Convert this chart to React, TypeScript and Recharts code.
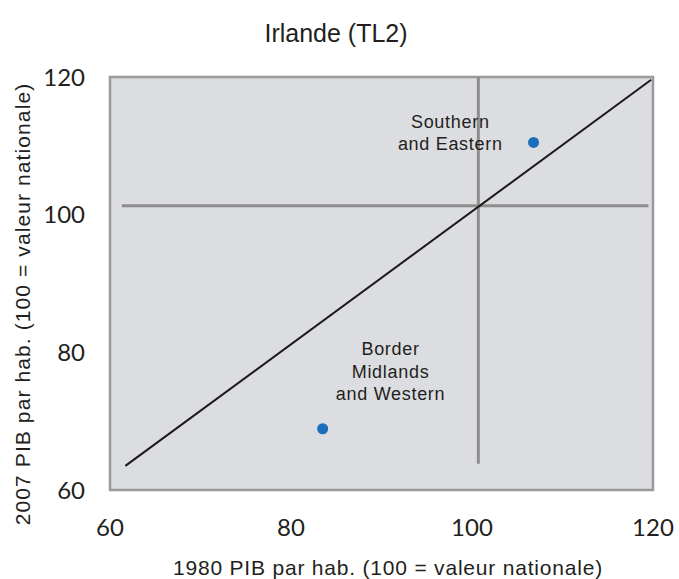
import {
  Customized,
  ReferenceArea,
  ReferenceDot,
  ReferenceLine,
  Scatter,
  ScatterChart,
  XAxis,
  YAxis,
} from "recharts";

// regions (TL2) and their GDP per head index (100 = national value)
const regions = ["Southern and Eastern", "Border Midlands and Western"];
const gdp1980 = [106.8, 83.5];
const gdp2007 = [110.5, 68.9];
const regionLabelLines = [
  ["Southern", "and Eastern"],
  ["Border", "Midlands", "and Western"],
];
const labelX = [97.6, 91.0];
const labelY = [112.6, 79.6];

const axisTicks = [60, 80, 100, 120];

// 45-degree-ish reference line and the two mean lines
const diagonalX = [61.7, 119.8];
const diagonalY = [63.5, 119.6];
const meanX = 100.7;
const meanXFromTo = [63.8, 120];
const meanY = 101.3;
const meanYFromTo = [61.3, 119.5];

const points = regions.map((name, i) => ({ name, x: gdp1980[i], y: gdp2007[i] }));

const textFont = '"Liberation Sans", Arial, sans-serif';
const tickFont = 'Lato, "Open Sans", sans-serif';
const textColor = "#231f20";

function Titles() {
  return (
    <g fontFamily={textFont} fill={textColor}>
      <text x={336} y={42} textAnchor="middle" fontSize={25}>
        Irlande (TL2)
      </text>
      <text x={388} y={575} textAnchor="middle" fontSize={21} letterSpacing={0.8}>
        1980 PIB par hab. (100 = valeur nationale)
      </text>
      <text
        x={30}
        y={304}
        textAnchor="middle"
        fontSize={21}
        letterSpacing={1.1}
        transform="rotate(-90 30 304)"
      >
        2007 PIB par hab. (100 = valeur nationale)
      </text>
    </g>
  );
}

function RegionLabel(lines: string[]) {
  return (props: any) => {
    const vb = props.viewBox || {};
    const cx = vb.x + (vb.width || 0) / 2;
    const cy = vb.y + (vb.height || 0) / 2;
    return (
      <text
        x={cx}
        y={cy}
        textAnchor="middle"
        fontFamily={textFont}
        fontSize={18}
        letterSpacing={0.7}
        fill={textColor}
      >
        {lines.map((l, i) => (
          <tspan key={l} x={cx} dy={i === 0 ? 0 : 22.5}>
            {l}
          </tspan>
        ))}
      </text>
    );
  };
}

export default function App() {
  return (
    <div style={{ position: "absolute", left: 0, top: 0 }}>
      <ScatterChart width={679} height={579} margin={{ top: 77, right: 26, bottom: 0, left: 0 }}>
        <XAxis
          type="number"
          dataKey="x"
          domain={[60, 120]}
          ticks={axisTicks}
          allowDataOverflow
          axisLine={false}
          tickLine={false}
          tickMargin={23}
          height={89}
          tick={{ fill: textColor, fontSize: 24, fontFamily: tickFont }}
        />
        <YAxis
          type="number"
          dataKey="y"
          domain={[60, 120]}
          ticks={axisTicks}
          allowDataOverflow
          axisLine={false}
          tickLine={false}
          tickMargin={19}
          width={110}
          tick={{ fill: textColor, fontSize: 24, fontFamily: tickFont }}
        />
        <ReferenceArea
          x1={60}
          x2={120}
          y1={60}
          y2={120}
          fill="#dcdde0"
          fillOpacity={1}
          stroke="#9a9a9a"
          strokeWidth={2.5}
        />
        <ReferenceLine
          segment={[
            { x: meanX, y: meanXFromTo[0] },
            { x: meanX, y: meanXFromTo[1] },
          ]}
          stroke="#8e8e8e"
          strokeWidth={3}
        />
        <ReferenceLine
          segment={[
            { x: meanYFromTo[0], y: meanY },
            { x: meanYFromTo[1], y: meanY },
          ]}
          stroke="#8e8e8e"
          strokeWidth={3}
        />
        <ReferenceLine
          segment={[
            { x: diagonalX[0], y: diagonalY[0] },
            { x: diagonalX[1], y: diagonalY[1] },
          ]}
          stroke="#1a1a1a"
          strokeWidth={2}
        />
        {regionLabelLines.map((lines, i) => (
          <ReferenceDot
            key={regions[i]}
            x={labelX[i]}
            y={labelY[i]}
            r={0}
            fill="none"
            stroke="none"
            label={RegionLabel(lines)}
          />
        ))}
        <Scatter
          data={points}
          isAnimationActive={false}
          shape={(p: any) => <circle cx={p.cx} cy={p.cy} r={5.5} fill="#1c6dbb" />}
        />
        <Customized component={Titles} />
      </ScatterChart>
    </div>
  );
}
